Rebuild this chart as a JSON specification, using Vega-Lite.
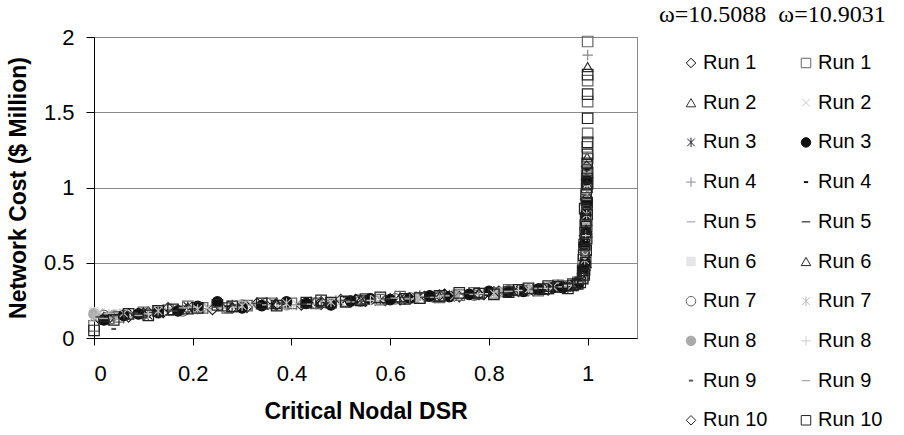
{
  "$schema": "https://vega.github.io/schema/vega-lite/v6.json",
  "width": 543,
  "height": 301,
  "autosize": {"type": "none"},
  "padding": {"left": 94, "top": 37, "right": 267, "bottom": 97},
  "background": "white",
  "data": {"values": [
    {"run":"01a","dsr":0.01,"cost":0.13},{"run":"01a","dsr":0.07,"cost":0.16},{"run":"01a","dsr":0.14,"cost":0.17},{"run":"01a","dsr":0.22,"cost":0.2},{"run":"01a","dsr":0.31,"cost":0.205},{"run":"01a","dsr":0.37,"cost":0.23},{"run":"01a","dsr":0.46,"cost":0.225},{"run":"01a","dsr":0.53,"cost":0.255},{"run":"01a","dsr":0.62,"cost":0.255},{"run":"01a","dsr":0.71,"cost":0.29},{"run":"01a","dsr":0.79,"cost":0.29},{"run":"01a","dsr":0.86,"cost":0.32},{"run":"01a","dsr":0.92,"cost":0.32},{"run":"01a","dsr":0.965,"cost":0.345},{"run":"01a","dsr":0.985,"cost":0.37},{"run":"01a","dsr":0.995,"cost":0.45},{"run":"01a","dsr":0.997,"cost":0.6},{"run":"01a","dsr":0.998,"cost":0.75},
    {"run":"02a","dsr":0.02,"cost":0.12},{"run":"02a","dsr":0.09,"cost":0.17},{"run":"02a","dsr":0.17,"cost":0.19},{"run":"02a","dsr":0.26,"cost":0.21},{"run":"02a","dsr":0.34,"cost":0.225},{"run":"02a","dsr":0.43,"cost":0.235},{"run":"02a","dsr":0.51,"cost":0.24},{"run":"02a","dsr":0.6,"cost":0.265},{"run":"02a","dsr":0.68,"cost":0.275},{"run":"02a","dsr":0.76,"cost":0.295},{"run":"02a","dsr":0.83,"cost":0.305},{"run":"02a","dsr":0.89,"cost":0.33},{"run":"02a","dsr":0.94,"cost":0.335},{"run":"02a","dsr":0.975,"cost":0.36},{"run":"02a","dsr":0.996,"cost":0.5},{"run":"02a","dsr":0.998,"cost":0.7},{"run":"02a","dsr":0.999,"cost":0.95},{"run":"02a","dsr":0.999,"cost":1.2},{"run":"02a","dsr":1.0,"cost":1.8},
    {"run":"03a","dsr":0.03,"cost":0.14},{"run":"03a","dsr":0.11,"cost":0.15},{"run":"03a","dsr":0.19,"cost":0.21},{"run":"03a","dsr":0.28,"cost":0.22},{"run":"03a","dsr":0.36,"cost":0.215},{"run":"03a","dsr":0.44,"cost":0.24},{"run":"03a","dsr":0.52,"cost":0.25},{"run":"03a","dsr":0.58,"cost":0.255},{"run":"03a","dsr":0.66,"cost":0.28},{"run":"03a","dsr":0.73,"cost":0.275},{"run":"03a","dsr":0.81,"cost":0.31},{"run":"03a","dsr":0.88,"cost":0.315},{"run":"03a","dsr":0.93,"cost":0.345},{"run":"03a","dsr":0.97,"cost":0.34},{"run":"03a","dsr":0.99,"cost":0.39},{"run":"03a","dsr":0.996,"cost":0.55},{"run":"03a","dsr":0.998,"cost":0.8},
    {"run":"04a","dsr":0.0,"cost":0.15},{"run":"04a","dsr":0.06,"cost":0.13},{"run":"04a","dsr":0.15,"cost":0.19},{"run":"04a","dsr":0.23,"cost":0.195},{"run":"04a","dsr":0.32,"cost":0.22},{"run":"04a","dsr":0.41,"cost":0.22},{"run":"04a","dsr":0.49,"cost":0.25},{"run":"04a","dsr":0.57,"cost":0.245},{"run":"04a","dsr":0.64,"cost":0.27},{"run":"04a","dsr":0.72,"cost":0.285},{"run":"04a","dsr":0.8,"cost":0.295},{"run":"04a","dsr":0.87,"cost":0.32},{"run":"04a","dsr":0.91,"cost":0.325},{"run":"04a","dsr":0.96,"cost":0.355},{"run":"04a","dsr":0.99,"cost":0.42},{"run":"04a","dsr":0.997,"cost":0.65},{"run":"04a","dsr":0.999,"cost":0.9},{"run":"04a","dsr":1.0,"cost":1.88},
    {"run":"05a","dsr":0.01,"cost":0.16},{"run":"05a","dsr":0.08,"cost":0.14},{"run":"05a","dsr":0.16,"cost":0.2},{"run":"05a","dsr":0.24,"cost":0.21},{"run":"05a","dsr":0.33,"cost":0.215},{"run":"05a","dsr":0.42,"cost":0.23},{"run":"05a","dsr":0.5,"cost":0.245},{"run":"05a","dsr":0.59,"cost":0.25},{"run":"05a","dsr":0.67,"cost":0.275},{"run":"05a","dsr":0.74,"cost":0.29},{"run":"05a","dsr":0.82,"cost":0.3},{"run":"05a","dsr":0.9,"cost":0.33},{"run":"05a","dsr":0.95,"cost":0.335},{"run":"05a","dsr":0.98,"cost":0.37},{"run":"05a","dsr":0.995,"cost":0.5},{"run":"05a","dsr":0.998,"cost":0.85},
    {"run":"06a","dsr":0.0,"cost":0.17},{"run":"06a","dsr":0.05,"cost":0.16},{"run":"06a","dsr":0.12,"cost":0.18},{"run":"06a","dsr":0.2,"cost":0.19},{"run":"06a","dsr":0.29,"cost":0.21},{"run":"06a","dsr":0.38,"cost":0.225},{"run":"06a","dsr":0.47,"cost":0.24},{"run":"06a","dsr":0.55,"cost":0.25},{"run":"06a","dsr":0.63,"cost":0.265},{"run":"06a","dsr":0.7,"cost":0.275},{"run":"06a","dsr":0.78,"cost":0.3},{"run":"06a","dsr":0.85,"cost":0.305},{"run":"06a","dsr":0.92,"cost":0.33},{"run":"06a","dsr":0.96,"cost":0.345},{"run":"06a","dsr":0.99,"cost":0.4},{"run":"06a","dsr":0.997,"cost":0.7},{"run":"06a","dsr":0.999,"cost":1.05},
    {"run":"07a","dsr":0.02,"cost":0.15},{"run":"07a","dsr":0.1,"cost":0.16},{"run":"07a","dsr":0.18,"cost":0.18},{"run":"07a","dsr":0.27,"cost":0.2},{"run":"07a","dsr":0.35,"cost":0.23},{"run":"07a","dsr":0.45,"cost":0.23},{"run":"07a","dsr":0.54,"cost":0.245},{"run":"07a","dsr":0.61,"cost":0.26},{"run":"07a","dsr":0.69,"cost":0.27},{"run":"07a","dsr":0.77,"cost":0.285},{"run":"07a","dsr":0.84,"cost":0.315},{"run":"07a","dsr":0.9,"cost":0.32},{"run":"07a","dsr":0.95,"cost":0.345},{"run":"07a","dsr":0.98,"cost":0.355},{"run":"07a","dsr":0.996,"cost":0.6},{"run":"07a","dsr":0.998,"cost":0.9},
    {"run":"08a","dsr":0.0,"cost":0.16},{"run":"08a","dsr":0.04,"cost":0.15},{"run":"08a","dsr":0.13,"cost":0.165},{"run":"08a","dsr":0.21,"cost":0.2},{"run":"08a","dsr":0.3,"cost":0.22},{"run":"08a","dsr":0.39,"cost":0.22},{"run":"08a","dsr":0.48,"cost":0.235},{"run":"08a","dsr":0.56,"cost":0.26},{"run":"08a","dsr":0.65,"cost":0.265},{"run":"08a","dsr":0.73,"cost":0.285},{"run":"08a","dsr":0.82,"cost":0.305},{"run":"08a","dsr":0.88,"cost":0.32},{"run":"08a","dsr":0.94,"cost":0.34},{"run":"08a","dsr":0.975,"cost":0.35},{"run":"08a","dsr":0.99,"cost":0.44},{"run":"08a","dsr":0.997,"cost":0.75},{"run":"08a","dsr":0.999,"cost":1.1},
    {"run":"09a","dsr":0.04,"cost":0.06},{"run":"09a","dsr":0.12,"cost":0.16},{"run":"09a","dsr":0.2,"cost":0.2},{"run":"09a","dsr":0.3,"cost":0.21},{"run":"09a","dsr":0.39,"cost":0.23},{"run":"09a","dsr":0.47,"cost":0.235},{"run":"09a","dsr":0.56,"cost":0.25},{"run":"09a","dsr":0.64,"cost":0.265},{"run":"09a","dsr":0.72,"cost":0.28},{"run":"09a","dsr":0.8,"cost":0.305},{"run":"09a","dsr":0.87,"cost":0.31},{"run":"09a","dsr":0.93,"cost":0.335},{"run":"09a","dsr":0.97,"cost":0.355},{"run":"09a","dsr":0.993,"cost":0.48},{"run":"09a","dsr":0.997,"cost":0.8},{"run":"09a","dsr":0.999,"cost":1.0},
    {"run":"10a","dsr":0.03,"cost":0.13},{"run":"10a","dsr":0.11,"cost":0.17},{"run":"10a","dsr":0.19,"cost":0.195},{"run":"10a","dsr":0.28,"cost":0.2},{"run":"10a","dsr":0.37,"cost":0.22},{"run":"10a","dsr":0.46,"cost":0.24},{"run":"10a","dsr":0.55,"cost":0.245},{"run":"10a","dsr":0.63,"cost":0.26},{"run":"10a","dsr":0.7,"cost":0.285},{"run":"10a","dsr":0.78,"cost":0.29},{"run":"10a","dsr":0.86,"cost":0.31},{"run":"10a","dsr":0.91,"cost":0.33},{"run":"10a","dsr":0.96,"cost":0.34},{"run":"10a","dsr":0.985,"cost":0.38},{"run":"10a","dsr":0.996,"cost":0.55},{"run":"10a","dsr":0.998,"cost":0.85},
    {"run":"10a","dsr":0.07,"cost":0.14},{"run":"10a","dsr":0.15,"cost":0.2},{"run":"10a","dsr":0.24,"cost":0.19},{"run":"10a","dsr":0.33,"cost":0.23},{"run":"10a","dsr":0.42,"cost":0.22},{"run":"10a","dsr":0.5,"cost":0.255},{"run":"10a","dsr":0.59,"cost":0.25},{"run":"10a","dsr":0.67,"cost":0.275},{"run":"10a","dsr":0.74,"cost":0.275},{"run":"10a","dsr":0.82,"cost":0.31},{"run":"10a","dsr":0.89,"cost":0.315},{"run":"10a","dsr":0.94,"cost":0.35},{"run":"10a","dsr":0.975,"cost":0.36},{"run":"10a","dsr":0.99,"cost":0.47},{"run":"10a","dsr":0.994,"cost":0.68},{"run":"10a","dsr":0.996,"cost":0.92},{"run":"10a","dsr":0.998,"cost":1.14},
    {"run":"01b","dsr":0.0,"cost":0.08},{"run":"01b","dsr":0.05,"cost":0.14},{"run":"01b","dsr":0.1,"cost":0.17},{"run":"01b","dsr":0.15,"cost":0.185},{"run":"01b","dsr":0.22,"cost":0.2},{"run":"01b","dsr":0.31,"cost":0.215},{"run":"01b","dsr":0.4,"cost":0.23},{"run":"01b","dsr":0.45,"cost":0.23},{"run":"01b","dsr":0.51,"cost":0.245},{"run":"01b","dsr":0.58,"cost":0.255},{"run":"01b","dsr":0.66,"cost":0.265},{"run":"01b","dsr":0.74,"cost":0.285},{"run":"01b","dsr":0.81,"cost":0.3},{"run":"01b","dsr":0.87,"cost":0.315},{"run":"01b","dsr":0.92,"cost":0.33},{"run":"01b","dsr":0.955,"cost":0.345},{"run":"01b","dsr":0.98,"cost":0.37},{"run":"01b","dsr":0.994,"cost":0.45},{"run":"01b","dsr":0.996,"cost":0.65},{"run":"01b","dsr":0.998,"cost":0.85},{"run":"01b","dsr":0.999,"cost":1.0},{"run":"01b","dsr":1.0,"cost":1.19},{"run":"01b","dsr":1.0,"cost":1.36},{"run":"01b","dsr":1.0,"cost":1.57},{"run":"01b","dsr":1.0,"cost":1.71},{"run":"01b","dsr":1.0,"cost":1.97},
    {"run":"01b","dsr":0.03,"cost":0.13},{"run":"01b","dsr":0.13,"cost":0.18},{"run":"01b","dsr":0.19,"cost":0.21},{"run":"01b","dsr":0.27,"cost":0.2},{"run":"01b","dsr":0.36,"cost":0.23},{"run":"01b","dsr":0.55,"cost":0.26},{"run":"01b","dsr":0.62,"cost":0.275},{"run":"01b","dsr":0.7,"cost":0.27},{"run":"01b","dsr":0.77,"cost":0.3},{"run":"01b","dsr":0.84,"cost":0.32},{"run":"01b","dsr":0.9,"cost":0.315},{"run":"01b","dsr":0.94,"cost":0.35},{"run":"01b","dsr":0.97,"cost":0.36},{"run":"01b","dsr":0.99,"cost":0.4},{"run":"01b","dsr":0.991,"cost":0.52},{"run":"01b","dsr":0.993,"cost":0.6},{"run":"01b","dsr":0.995,"cost":0.75},{"run":"01b","dsr":0.997,"cost":0.92},{"run":"01b","dsr":0.998,"cost":1.08},{"run":"01b","dsr":0.999,"cost":1.27},
    {"run":"02b","dsr":0.01,"cost":0.17},{"run":"02b","dsr":0.07,"cost":0.15},{"run":"02b","dsr":0.14,"cost":0.19},{"run":"02b","dsr":0.23,"cost":0.2},{"run":"02b","dsr":0.32,"cost":0.22},{"run":"02b","dsr":0.41,"cost":0.225},{"run":"02b","dsr":0.5,"cost":0.24},{"run":"02b","dsr":0.58,"cost":0.26},{"run":"02b","dsr":0.66,"cost":0.27},{"run":"02b","dsr":0.75,"cost":0.285},{"run":"02b","dsr":0.83,"cost":0.31},{"run":"02b","dsr":0.89,"cost":0.315},{"run":"02b","dsr":0.94,"cost":0.345},{"run":"02b","dsr":0.975,"cost":0.345},{"run":"02b","dsr":0.995,"cost":0.55},{"run":"02b","dsr":0.998,"cost":0.95},
    {"run":"03b","dsr":0.02,"cost":0.12},{"run":"03b","dsr":0.09,"cost":0.16},{"run":"03b","dsr":0.17,"cost":0.18},{"run":"03b","dsr":0.25,"cost":0.24},{"run":"03b","dsr":0.34,"cost":0.215},{"run":"03b","dsr":0.43,"cost":0.23},{"run":"03b","dsr":0.52,"cost":0.245},{"run":"03b","dsr":0.6,"cost":0.255},{"run":"03b","dsr":0.68,"cost":0.28},{"run":"03b","dsr":0.76,"cost":0.29},{"run":"03b","dsr":0.84,"cost":0.305},{"run":"03b","dsr":0.9,"cost":0.325},{"run":"03b","dsr":0.95,"cost":0.335},{"run":"03b","dsr":0.98,"cost":0.36},{"run":"03b","dsr":0.995,"cost":0.5},{"run":"03b","dsr":0.997,"cost":0.7},{"run":"03b","dsr":0.999,"cost":0.9},
    {"run":"03b","dsr":0.06,"cost":0.15},{"run":"03b","dsr":0.13,"cost":0.17},{"run":"03b","dsr":0.21,"cost":0.21},{"run":"03b","dsr":0.3,"cost":0.2},{"run":"03b","dsr":0.39,"cost":0.24},{"run":"03b","dsr":0.48,"cost":0.22},{"run":"03b","dsr":0.56,"cost":0.26},{"run":"03b","dsr":0.64,"cost":0.265},{"run":"03b","dsr":0.72,"cost":0.275},{"run":"03b","dsr":0.8,"cost":0.31},{"run":"03b","dsr":0.87,"cost":0.31},{"run":"03b","dsr":0.93,"cost":0.335},{"run":"03b","dsr":0.97,"cost":0.35},{"run":"03b","dsr":0.99,"cost":0.45},{"run":"03b","dsr":0.993,"cost":0.62},{"run":"03b","dsr":0.996,"cost":0.82},{"run":"03b","dsr":0.998,"cost":1.05},
    {"run":"04b","dsr":0.03,"cost":0.15},{"run":"04b","dsr":0.1,"cost":0.155},{"run":"04b","dsr":0.18,"cost":0.19},{"run":"04b","dsr":0.27,"cost":0.21},{"run":"04b","dsr":0.36,"cost":0.225},{"run":"04b","dsr":0.44,"cost":0.235},{"run":"04b","dsr":0.53,"cost":0.24},{"run":"04b","dsr":0.61,"cost":0.26},{"run":"04b","dsr":0.69,"cost":0.275},{"run":"04b","dsr":0.77,"cost":0.295},{"run":"04b","dsr":0.85,"cost":0.31},{"run":"04b","dsr":0.91,"cost":0.32},{"run":"04b","dsr":0.96,"cost":0.35},{"run":"04b","dsr":0.99,"cost":0.41},{"run":"04b","dsr":0.996,"cost":0.62},{"run":"04b","dsr":0.998,"cost":0.88},{"run":"04b","dsr":0.999,"cost":1.12},
    {"run":"05b","dsr":0.01,"cost":0.14},{"run":"05b","dsr":0.08,"cost":0.165},{"run":"05b","dsr":0.16,"cost":0.18},{"run":"05b","dsr":0.25,"cost":0.205},{"run":"05b","dsr":0.33,"cost":0.23},{"run":"05b","dsr":0.42,"cost":0.225},{"run":"05b","dsr":0.51,"cost":0.25},{"run":"05b","dsr":0.59,"cost":0.26},{"run":"05b","dsr":0.67,"cost":0.27},{"run":"05b","dsr":0.75,"cost":0.295},{"run":"05b","dsr":0.83,"cost":0.3},{"run":"05b","dsr":0.89,"cost":0.325},{"run":"05b","dsr":0.94,"cost":0.34},{"run":"05b","dsr":0.98,"cost":0.365},{"run":"05b","dsr":0.995,"cost":0.6},{"run":"05b","dsr":0.998,"cost":0.95},{"run":"05b","dsr":0.999,"cost":1.08},
    {"run":"05b","dsr":0.05,"cost":0.15},{"run":"05b","dsr":0.12,"cost":0.17},{"run":"05b","dsr":0.2,"cost":0.19},{"run":"05b","dsr":0.29,"cost":0.22},{"run":"05b","dsr":0.38,"cost":0.23},{"run":"05b","dsr":0.47,"cost":0.235},{"run":"05b","dsr":0.55,"cost":0.245},{"run":"05b","dsr":0.63,"cost":0.27},{"run":"05b","dsr":0.71,"cost":0.285},{"run":"05b","dsr":0.79,"cost":0.29},{"run":"05b","dsr":0.86,"cost":0.32},{"run":"05b","dsr":0.92,"cost":0.33},{"run":"05b","dsr":0.96,"cost":0.355},{"run":"05b","dsr":0.99,"cost":0.42},{"run":"05b","dsr":0.993,"cost":0.66},{"run":"05b","dsr":0.996,"cost":0.88},{"run":"05b","dsr":0.999,"cost":1.15},
    {"run":"06b","dsr":0.02,"cost":0.14},{"run":"06b","dsr":0.1,"cost":0.17},{"run":"06b","dsr":0.19,"cost":0.19},{"run":"06b","dsr":0.28,"cost":0.205},{"run":"06b","dsr":0.37,"cost":0.225},{"run":"06b","dsr":0.46,"cost":0.235},{"run":"06b","dsr":0.54,"cost":0.255},{"run":"06b","dsr":0.62,"cost":0.27},{"run":"06b","dsr":0.7,"cost":0.275},{"run":"06b","dsr":0.78,"cost":0.3},{"run":"06b","dsr":0.85,"cost":0.315},{"run":"06b","dsr":0.92,"cost":0.325},{"run":"06b","dsr":0.965,"cost":0.35},{"run":"06b","dsr":0.99,"cost":0.43},{"run":"06b","dsr":0.997,"cost":0.72},{"run":"06b","dsr":0.999,"cost":1.02},
    {"run":"07b","dsr":0.0,"cost":0.14},{"run":"07b","dsr":0.06,"cost":0.165},{"run":"07b","dsr":0.13,"cost":0.18},{"run":"07b","dsr":0.21,"cost":0.19},{"run":"07b","dsr":0.3,"cost":0.215},{"run":"07b","dsr":0.39,"cost":0.23},{"run":"07b","dsr":0.48,"cost":0.24},{"run":"07b","dsr":0.57,"cost":0.255},{"run":"07b","dsr":0.65,"cost":0.275},{"run":"07b","dsr":0.73,"cost":0.28},{"run":"07b","dsr":0.81,"cost":0.295},{"run":"07b","dsr":0.88,"cost":0.32},{"run":"07b","dsr":0.93,"cost":0.34},{"run":"07b","dsr":0.97,"cost":0.355},{"run":"07b","dsr":0.994,"cost":0.52},{"run":"07b","dsr":0.998,"cost":0.82},
    {"run":"08b","dsr":0.03,"cost":0.16},{"run":"08b","dsr":0.11,"cost":0.16},{"run":"08b","dsr":0.2,"cost":0.205},{"run":"08b","dsr":0.29,"cost":0.205},{"run":"08b","dsr":0.38,"cost":0.215},{"run":"08b","dsr":0.47,"cost":0.245},{"run":"08b","dsr":0.56,"cost":0.25},{"run":"08b","dsr":0.64,"cost":0.26},{"run":"08b","dsr":0.71,"cost":0.28},{"run":"08b","dsr":0.79,"cost":0.295},{"run":"08b","dsr":0.86,"cost":0.315},{"run":"08b","dsr":0.92,"cost":0.33},{"run":"08b","dsr":0.96,"cost":0.35},{"run":"08b","dsr":0.99,"cost":0.4},{"run":"08b","dsr":0.996,"cost":0.68},{"run":"08b","dsr":0.999,"cost":0.98},
    {"run":"09b","dsr":0.02,"cost":0.13},{"run":"09b","dsr":0.09,"cost":0.15},{"run":"09b","dsr":0.18,"cost":0.2},{"run":"09b","dsr":0.26,"cost":0.2},{"run":"09b","dsr":0.35,"cost":0.22},{"run":"09b","dsr":0.44,"cost":0.225},{"run":"09b","dsr":0.52,"cost":0.24},{"run":"09b","dsr":0.61,"cost":0.265},{"run":"09b","dsr":0.69,"cost":0.27},{"run":"09b","dsr":0.77,"cost":0.29},{"run":"09b","dsr":0.84,"cost":0.31},{"run":"09b","dsr":0.9,"cost":0.33},{"run":"09b","dsr":0.95,"cost":0.34},{"run":"09b","dsr":0.985,"cost":0.37},{"run":"09b","dsr":0.996,"cost":0.58},{"run":"09b","dsr":0.998,"cost":0.92},
    {"run":"10b","dsr":0.0,"cost":0.05},{"run":"10b","dsr":0.04,"cost":0.12},{"run":"10b","dsr":0.11,"cost":0.15},{"run":"10b","dsr":0.16,"cost":0.19},{"run":"10b","dsr":0.21,"cost":0.2},{"run":"10b","dsr":0.28,"cost":0.21},{"run":"10b","dsr":0.34,"cost":0.23},{"run":"10b","dsr":0.43,"cost":0.235},{"run":"10b","dsr":0.48,"cost":0.235},{"run":"10b","dsr":0.54,"cost":0.25},{"run":"10b","dsr":0.63,"cost":0.26},{"run":"10b","dsr":0.7,"cost":0.28},{"run":"10b","dsr":0.78,"cost":0.295},{"run":"10b","dsr":0.84,"cost":0.305},{"run":"10b","dsr":0.88,"cost":0.33},{"run":"10b","dsr":0.91,"cost":0.325},{"run":"10b","dsr":0.94,"cost":0.34},{"run":"10b","dsr":0.97,"cost":0.35},{"run":"10b","dsr":0.985,"cost":0.37},{"run":"10b","dsr":0.993,"cost":0.42},{"run":"10b","dsr":0.996,"cost":0.5},{"run":"10b","dsr":0.997,"cost":0.58},{"run":"10b","dsr":0.998,"cost":0.66},{"run":"10b","dsr":0.998,"cost":0.74},{"run":"10b","dsr":0.999,"cost":0.82},{"run":"10b","dsr":0.999,"cost":0.9},{"run":"10b","dsr":1.0,"cost":1.03},{"run":"10b","dsr":1.0,"cost":1.1},{"run":"10b","dsr":1.0,"cost":1.3},{"run":"10b","dsr":1.0,"cost":1.46},{"run":"10b","dsr":1.0,"cost":1.62},{"run":"10b","dsr":1.0,"cost":1.75},
    {"run":"10b","dsr":0.07,"cost":0.16},{"run":"10b","dsr":0.13,"cost":0.18},{"run":"10b","dsr":0.25,"cost":0.22},{"run":"10b","dsr":0.37,"cost":0.215},{"run":"10b","dsr":0.46,"cost":0.25},{"run":"10b","dsr":0.51,"cost":0.24},{"run":"10b","dsr":0.58,"cost":0.27},{"run":"10b","dsr":0.66,"cost":0.265},{"run":"10b","dsr":0.74,"cost":0.3},{"run":"10b","dsr":0.81,"cost":0.29},{"run":"10b","dsr":0.86,"cost":0.32},{"run":"10b","dsr":0.92,"cost":0.345},{"run":"10b","dsr":0.96,"cost":0.33},{"run":"10b","dsr":0.98,"cost":0.36},{"run":"10b","dsr":0.99,"cost":0.395},{"run":"10b","dsr":0.99,"cost":0.45},{"run":"10b","dsr":0.992,"cost":0.55},{"run":"10b","dsr":0.993,"cost":0.62},{"run":"10b","dsr":0.995,"cost":0.7},{"run":"10b","dsr":0.996,"cost":0.78},{"run":"10b","dsr":0.994,"cost":0.86},{"run":"10b","dsr":0.997,"cost":0.95},{"run":"10b","dsr":0.998,"cost":1.0},{"run":"10b","dsr":0.999,"cost":1.06},{"run":"10b","dsr":0.999,"cost":1.16},{"run":"10b","dsr":1.0,"cost":1.22}
  ]},
  "mark": {"type": "point", "size": 110, "strokeWidth": 1.2, "opacity": 1},
  "encoding": {
    "x": {"field": "dsr", "type": "quantitative",
      "scale": {"domain": [0, 1.1], "nice": false, "zero": false},
      "axis": {"values": [0, 0.2, 0.4, 0.6, 0.8, 1], "format": "~g", "grid": false, "title": "Critical Nodal DSR", "labelPadding": 18, "titlePadding": 16}},
    "y": {"field": "cost", "type": "quantitative",
      "scale": {"domain": [0, 2], "nice": false},
      "axis": {"values": [0, 0.5, 1, 1.5, 2], "format": "~g", "grid": true, "title": "Network Cost ($ Million)", "labelPadding": 12, "tickSize": 8, "titlePadding": 13}},
    "shape": {"field": "run", "type": "nominal",
      "scale": {"domain": ["01a","02a","03a","04a","05a","06a","07a","08a","09a","10a","01b","02b","03b","04b","05b","06b","07b","08b","09b","10b"],
        "range": ["diamond","triangle-up","M-0.8,-0.8L0.8,0.8M-0.8,0.8L0.8,-0.8M0,-1V1","M-1,0H1M0,-1V1","M-0.9,-0.14H0.9V0.14H-0.9Z","square","circle","circle","M-0.45,-0.2H0.45V0.2H-0.45Z","diamond","square","M-0.8,-0.8L0.8,0.8M-0.8,0.8L0.8,-0.8","circle","M-0.45,-0.2H0.45V0.2H-0.45Z","M-0.9,-0.14H0.9V0.14H-0.9Z","triangle-up","M-0.8,-0.8L0.8,0.8M-0.8,0.8L0.8,-0.8M0,-1V1","M-1,0H1M0,-1V1","M-0.9,-0.14H0.9V0.14H-0.9Z","square"]},
      "legend": {"title": "ω=10.5088\u00a0\u00a0ω=10.9031", "labelExpr": "'Run ' + toNumber(substring(datum.label, 0, 2))"}},
    "fill": {"field": "run", "type": "nominal",
      "scale": {"domain": ["01a","02a","03a","04a","05a","06a","07a","08a","09a","10a","01b","02b","03b","04b","05b","06b","07b","08b","09b","10b"],
        "range": ["transparent","transparent","transparent","transparent","#b0b0b0","#e6e6e6","transparent","#aaaaaa","#555555","transparent","transparent","transparent","#111111","#111111","#444444","transparent","transparent","transparent","#aaaaaa","transparent"]},
      "legend": {"title": "ω=10.5088\u00a0\u00a0ω=10.9031"}},
    "stroke": {"field": "run", "type": "nominal",
      "scale": {"domain": ["01a","02a","03a","04a","05a","06a","07a","08a","09a","10a","01b","02b","03b","04b","05b","06b","07b","08b","09b","10b"],
        "range": ["#000000","#333333","#222222","#888888","transparent","transparent","#666666","#aaaaaa","transparent","#222222","#666666","#c8c8c8","#111111","transparent","transparent","#222222","#b8b8b8","#cccccc","transparent","#222222"]},
      "legend": {"title": "ω=10.5088\u00a0\u00a0ω=10.9031"}}
  },
  "config": {
    "font": "Liberation Sans",
    "view": {"stroke": "#888888", "strokeWidth": 1},
    "axis": {
      "labelFont": "Liberation Sans", "labelFontSize": 22, "labelColor": "black",
      "titleFont": "Liberation Sans", "titleFontSize": 23, "titleFontWeight": "bold", "titleColor": "black",
      "domainColor": "black", "domainWidth": 1, "tickColor": "black", "tickSize": 7, "tickWidth": 1,
      "gridColor": "#888888", "gridWidth": 1, "gridOpacity": 1
    },
    "legend": {
      "orient": "none", "legendX": 565, "legendY": -34, "columns": 2, "padding": 0,
      "titleFont": "Liberation Serif", "titleFontSize": 24, "titleFontWeight": "normal", "titleColor": "black", "titlePadding": 26, "titleLimit": 400,
      "labelFont": "Liberation Sans", "labelFontSize": 20, "labelColor": "black", "labelOffset": 2,
      "symbolSize": 90, "symbolStrokeWidth": 1, "symbolOffset": 22,
      "rowPadding": 19.7, "columnPadding": 6
    }
  }
}
